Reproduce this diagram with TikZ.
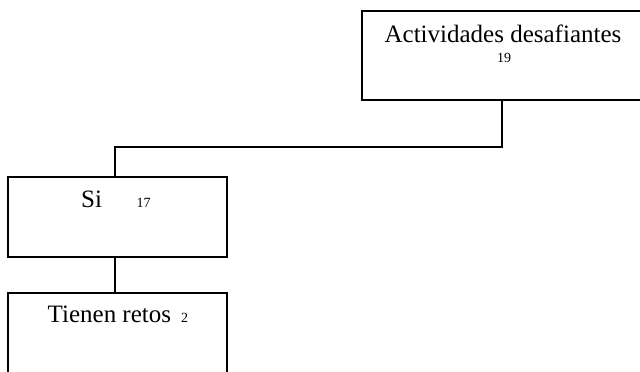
\documentclass[tikz,border=0pt]{standalone}
\usepackage{fontspec}
\setmainfont{Liberation Serif}
\begin{document}
\begin{tikzpicture}[x=1pt,y=1pt,
  box/.style={draw=black, line width=2pt, fill=white, rectangle, inner sep=0pt, outer sep=0pt, anchor=north west},
  conn/.style={draw=black, line width=2pt},
  big/.style={font=\fontsize{25}{29}\selectfont, inner sep=0pt},
  small/.style={font=\fontsize{14}{16}\selectfont, inner sep=0pt}]
\useasboundingbox (0,0) rectangle (640,372);
\clip (0,0) rectangle (640,372);
\node[box, minimum width=284pt, minimum height=89pt] (top) at (362,361) {};
\node[box, minimum width=219pt, minimum height=79.5pt] (si) at (8,194.5) {};
\node[box, minimum width=219pt, minimum height=90pt] (ret) at (8,79.3) {};
\coordinate (topb) at (502,0 |- top.south);
\coordinate (bend) at (502,225);
\coordinate (sitop) at (115,0 |- si.north);
\coordinate (sibot) at (115,0 |- si.south);
\coordinate (rettop) at (115,0 |- ret.north);
\draw[conn] (topb) -- (bend) -| (sitop);
\draw[conn] (sibot) -- (rettop);
\node[big, anchor=base] (t1) at (503,329) {Actividades desafiantes};
\node[small, anchor=base] (t2) at (504,309) {19};
\node[big, anchor=base west] (t3) at (81,164) {Si};
\node[small, anchor=base west] (t4) at (136.5,164) {17};
\node[big, anchor=base west] (t5) at (47.5,49) {Tienen retos};
\node[small, anchor=base west] (t6) at (181,49) {2};
\end{tikzpicture}
\end{document}
